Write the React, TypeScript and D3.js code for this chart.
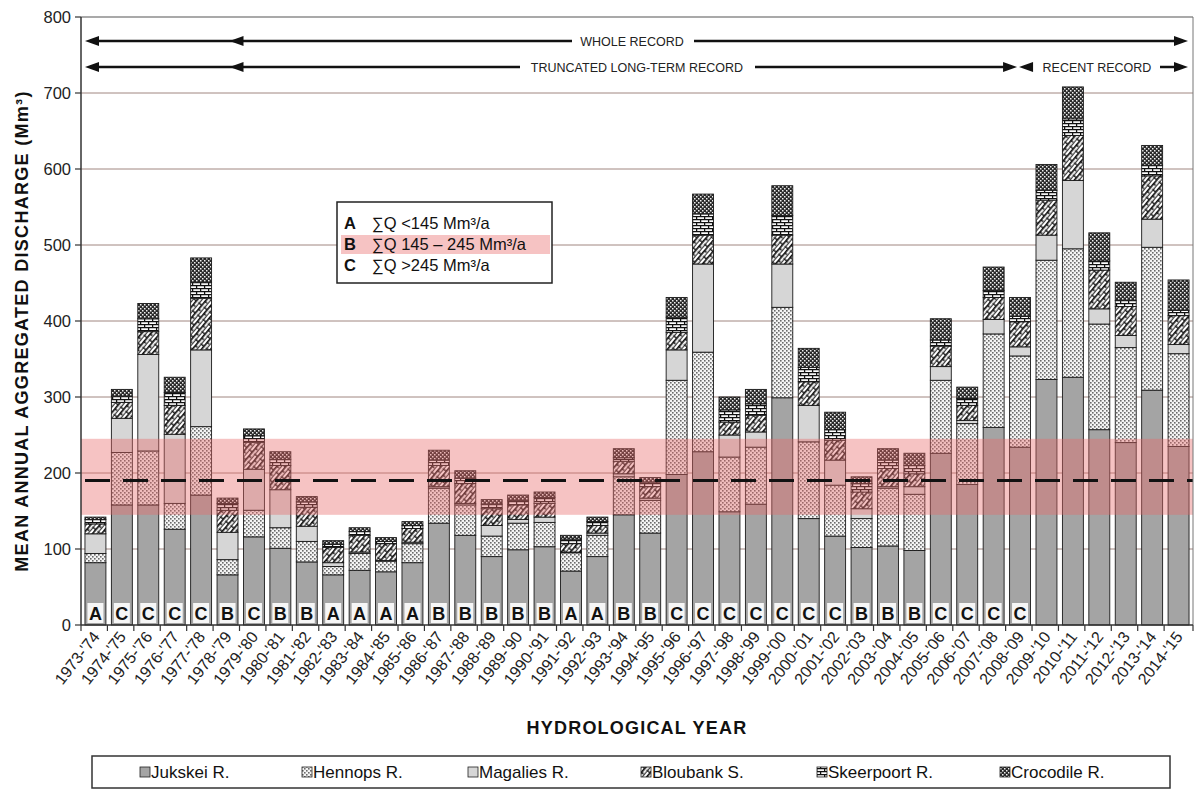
import React from "react";
import * as d3 from "d3";

const years = ["1973-'74","1974-'75","1975-'76","1976-'77","1977-'78","1978-'79","1979-'80","1980-'81","1981-'82","1982-'83","1983-'84","1984-'85","1985-'86","1986-'87","1987-'88","1988-'89","1989-'90","1990-'91","1991-'92","1992-'93","1993-'94","1994-'95","1995-'96","1996-'97","1997-'98","1998-'99","1999-'00","2000-'01","2001-'02","2002-'03","2003-'04","2004-'05","2005-'06","2006-'07","2007-'08","2008-'09","2009-'10","2010-'11","2011-'12","2012-'13","2013-'14","2014-'15"];

const jukskei = [82,158,158,126,171,66,116,101,83,66,72,70,82,134,118,90,99,103,71,90,145,121,198,228,149,159,299,140,117,102,104,98,226,185,260,234,323,326,257,240,309,235];
const hennops = [12,69,71,34,90,20,35,27,27,11,22,14,25,46,40,27,35,32,24,28,50,43,124,131,72,75,119,101,67,38,76,74,96,80,123,120,157,169,139,125,188,122];
const magalies = [26,45,127,91,101,36,54,50,20,5,2,1,2,2,2,14,5,7,1,3,4,3,40,116,29,20,57,48,33,13,2,10,18,4,19,12,33,90,20,16,37,12];
const bloubank = [13,21,30,38,68,29,35,32,25,20,22,22,18,28,26,22,19,18,11,10,16,15,23,38,17,22,38,31,26,22,24,17,27,20,29,33,46,59,51,38,57,38];
const skeerpoort = [6,8,17,17,21,9,9,8,7,4,5,3,4,7,7,6,6,8,6,5,5,6,20,28,16,15,26,19,14,11,11,11,8,9,9,7,13,22,12,8,14,7];
const crocodile = [3,9,20,20,32,7,9,10,7,5,5,5,5,13,10,6,7,7,5,6,12,6,26,26,17,19,39,25,23,9,15,16,28,15,31,25,34,42,37,24,26,40];

const classes = ["A","C","C","C","C","B","C","B","B","A","A","A","A","B","B","B","B","B","A","A","B","B","C","C","C","C","C","C","C","B","B","B","C","C","C","C","","","","","",""];

const seriesNames = ["Jukskei R.","Hennops R.","Magalies R.","Bloubank S.","Skeerpoort R.","Crocodile R."];
const seriesKeys = ["jukskei","hennops","magalies","bloubank","skeerpoort","crocodile"];
const yTicks = [0,100,200,300,400,500,600,700,800];
const meanValue = 190;
const bandLow = 145;
const bandHigh = 245;
const classLegend = [
  { letter: "A", text: "∑Q <145 Mm³/a" },
  { letter: "B", text: "∑Q 145 – 245 Mm³/a" },
  { letter: "C", text: "∑Q >245 Mm³/a" },
];

const fills: Record<string, string> = {
  jukskei: "#a4a4a4",
  hennops: "url(#pH)",
  magalies: "#d6d6d6",
  bloubank: "url(#pB)",
  skeerpoort: "url(#pS)",
  crocodile: "url(#pC)",
};

const FONT = "'Liberation Sans', Arial, Helvetica, sans-serif";

export default function App() {
  const W = 1195, H = 790;
  const L = 81, R = 1193, T = 17, B = 625;
  const x = d3.scaleBand<string>().domain(years).range([L, R]).paddingInner(0.207).paddingOuter(0.15);
  const y = d3.scaleLinear().domain([0, 800]).range([B, T]);
  const bw = x.bandwidth();
  const cx = (yr: string) => (x(yr) as number) + bw / 2;

  const rows = years.map((yr, i) => ({
    year: yr,
    jukskei: jukskei[i], hennops: hennops[i], magalies: magalies[i],
    bloubank: bloubank[i], skeerpoort: skeerpoort[i], crocodile: crocodile[i],
  }));
  const stacked = d3.stack<any>().keys(seriesKeys)(rows);

  const arrowHead = (tip: number, yy: number, dir: number, key: string) => (
    <polygon key={key} points={`${tip},${yy} ${tip - dir * 14},${yy - 5} ${tip - dir * 14},${yy + 5}`} fill="#111" />
  );

  const yWhole = 41, yTrunc = 67;
  const tipL = L + 4;
  const tip2 = cx("1978-'79") + 2;
  const truncEnd = cx("2008-'09") - 3;
  const recentStart = cx("2008-'09") - 1;
  const tipR = R - 5;

  const legendX = [140, 302, 468, 641, 817, 1000];

  return (
    <svg width={W} height={H} style={{ display: "block", position: "absolute", left: 0, top: 0, background: "#fff" }} fontFamily={FONT}>
      <defs>
        <pattern id="pH" width="4" height="4" patternUnits="userSpaceOnUse">
          <rect width="4" height="4" fill="#f4f4f4" />
          <rect x="0" y="0" width="1.6" height="1.6" fill="#6a6a6a" />
          <rect x="2" y="2" width="1.6" height="1.6" fill="#6a6a6a" />
        </pattern>
        <pattern id="pB" width="10" height="7" patternUnits="userSpaceOnUse" patternTransform="rotate(-50)">
          <rect width="10" height="7" fill="#fff" />
          <line x1="0" y1="0.8" x2="10" y2="0.8" stroke="#111" strokeWidth="1.8" />
          <line x1="0.8" y1="0" x2="0.8" y2="3.5" stroke="#111" strokeWidth="1.4" />
          <line x1="5.8" y1="3.5" x2="5.8" y2="7" stroke="#111" strokeWidth="1.4" />
          <line x1="0" y1="4.3" x2="10" y2="4.3" stroke="#111" strokeWidth="1" />
        </pattern>
        <pattern id="pS" width="8" height="6" patternUnits="userSpaceOnUse">
          <rect width="8" height="6" fill="#fff" />
          <line x1="0" y1="0.6" x2="8" y2="0.6" stroke="#111" strokeWidth="1.3" />
          <line x1="0" y1="3.6" x2="8" y2="3.6" stroke="#111" strokeWidth="1.3" />
          <line x1="0.6" y1="0.6" x2="0.6" y2="3.6" stroke="#111" strokeWidth="1.3" />
          <line x1="4.6" y1="3.6" x2="4.6" y2="6.6" stroke="#111" strokeWidth="1.3" />
        </pattern>
        <pattern id="pC" width="4" height="4" patternUnits="userSpaceOnUse">
          <rect width="4" height="4" fill="#2a2a2a" />
          <rect x="0" y="0" width="1.5" height="1.5" fill="#f0f0f0" />
          <rect x="2" y="2" width="1.5" height="1.5" fill="#f0f0f0" />
        </pattern>
      </defs>

      <rect x={0} y={0} width={W} height={H} fill="#fff" />

      {yTicks.filter((t) => t > 0 && t < 800).map((t) => (
        <line key={"g" + t} x1={L} x2={R} y1={y(t)} y2={y(t)} stroke="#a08680" strokeWidth={1} />
      ))}

      {stacked.map((s) => (
        <g key={s.key}>
          {s.map((d: any, i: number) => (
            <rect key={i} x={x(years[i])} width={bw} y={y(d[1])} height={Math.max(0, y(d[0]) - y(d[1]))}
              fill={fills[s.key]} stroke="#1a1a1a" strokeWidth={0.9} />
          ))}
        </g>
      ))}

      <rect x={L} width={R - L} y={y(bandHigh)} height={y(bandLow) - y(bandHigh)} fill="#e86a6a" opacity={0.4} />

      <line x1={L + 4} x2={R} y1={y(meanValue)} y2={y(meanValue)} stroke="#111" strokeWidth={3} strokeDasharray="25 13" />

      <line x1={L} x2={R} y1={T} y2={T} stroke="#555" strokeWidth={1.2} />
      <line x1={R} x2={R} y1={T} y2={B} stroke="#777" strokeWidth={1} />
      <line x1={L} x2={L} y1={T} y2={B} stroke="#333" strokeWidth={1.5} />
      <line x1={L} x2={R} y1={B} y2={B} stroke="#333" strokeWidth={1.5} />

      {yTicks.map((t) => (
        <g key={"yt" + t}>
          <line x1={L - 6} x2={L} y1={y(t)} y2={y(t)} stroke="#333" strokeWidth={1.2} />
          <text x={L - 10} y={y(t)} dy="0.36em" textAnchor="end" fontSize={16.5} fill="#222">{t}</text>
        </g>
      ))}

      {years.map((yr, i) => {
        const xb = L + i * x.step();
        return <line key={"xt" + i} x1={xb} x2={xb} y1={B} y2={B + 6} stroke="#333" strokeWidth={1.2} />;
      })}
      <line x1={R} x2={R} y1={B} y2={B + 6} stroke="#333" strokeWidth={1.2} />

      {years.map((yr) => (
        <text key={"xl" + yr} transform={`translate(${cx(yr) + 5},${B + 12}) rotate(-52)`} textAnchor="end"
          fontSize={16} fill="#222">{yr}</text>
      ))}

      {years.map((yr, i) => classes[i] ? (
        <g key={"c" + i}>
          <rect x={cx(yr) - 8} y={B - 22} width={16} height={20} fill="#fff" opacity={0.9} />
          <text x={cx(yr)} y={B - 5} textAnchor="middle" fontSize={18} fontWeight="bold" fill="#111">{classes[i]}</text>
        </g>
      ) : null)}

      <line x1={tipL + 5} x2={572} y1={yWhole} y2={yWhole} stroke="#111" strokeWidth={2.5} />
      <line x1={694} x2={tipR - 5} y1={yWhole} y2={yWhole} stroke="#111" strokeWidth={2.5} />
      {arrowHead(tipL, yWhole, -1, "a1")}
      {arrowHead(tip2, yWhole, -1, "a2")}
      {arrowHead(tipR, yWhole, 1, "a3")}
      <text x={632} y={yWhole} dy="0.36em" textAnchor="middle" fontSize={12.5} fill="#222">WHOLE RECORD</text>

      <line x1={tipL + 5} x2={520} y1={yTrunc} y2={yTrunc} stroke="#111" strokeWidth={2.5} />
      <line x1={755} x2={truncEnd - 5} y1={yTrunc} y2={yTrunc} stroke="#111" strokeWidth={2.5} />
      {arrowHead(tipL, yTrunc, -1, "b1")}
      {arrowHead(tip2, yTrunc, -1, "b2")}
      {arrowHead(truncEnd, yTrunc, 1, "b3")}
      <text x={637} y={yTrunc} dy="0.36em" textAnchor="middle" fontSize={12.5} fill="#222">TRUNCATED LONG-TERM RECORD</text>

      {arrowHead(recentStart, yTrunc, -1, "c1")}
      <text x={1097} y={yTrunc} dy="0.36em" textAnchor="middle" fontSize={12.5} fill="#222">RECENT RECORD</text>
      <line x1={1160} x2={tipR - 5} y1={yTrunc} y2={yTrunc} stroke="#111" strokeWidth={2.5} />
      {arrowHead(tipR, yTrunc, 1, "c2")}

      <rect x={337} y={202} width={215} height={81} fill="#fff" stroke="#222" strokeWidth={1.5} />
      <rect x={341} y={235} width={209} height={19} fill="#e86a6a" opacity={0.4} />
      {classLegend.map((c, i) => (
        <g key={"cl" + i}>
          <text x={344} y={229 + i * 21} fontSize={16.5} fontWeight="bold" fill="#111">{c.letter}</text>
          <text x={372} y={229 + i * 21} fontSize={16.5} fill="#111">{c.text}</text>
        </g>
      ))}

      <text x={637} y={734} textAnchor="middle" fontSize={18} fontWeight="bold" letterSpacing={1.2} fill="#111">HYDROLOGICAL YEAR</text>
      <text transform={`translate(28,${(T + B) / 2 + 10}) rotate(-90)`} textAnchor="middle" fontSize={18} fontWeight="bold" letterSpacing={1.3} fill="#111">
        MEAN ANNUAL AGGREGATED DISCHARGE (Mm³)
      </text>

      <rect x={92} y={756} width={1078} height={32} fill="#fff" stroke="#333" strokeWidth={1.5} />
      {seriesNames.map((n, i) => (
        <g key={"lg" + i}>
          <rect x={legendX[i]} y={767} width={10} height={10} fill={fills[seriesKeys[i]]} stroke="#222" strokeWidth={0.8} />
          <text x={legendX[i] + 11} y={778} fontSize={17} fill="#111">{n}</text>
        </g>
      ))}
    </svg>
  );
}
